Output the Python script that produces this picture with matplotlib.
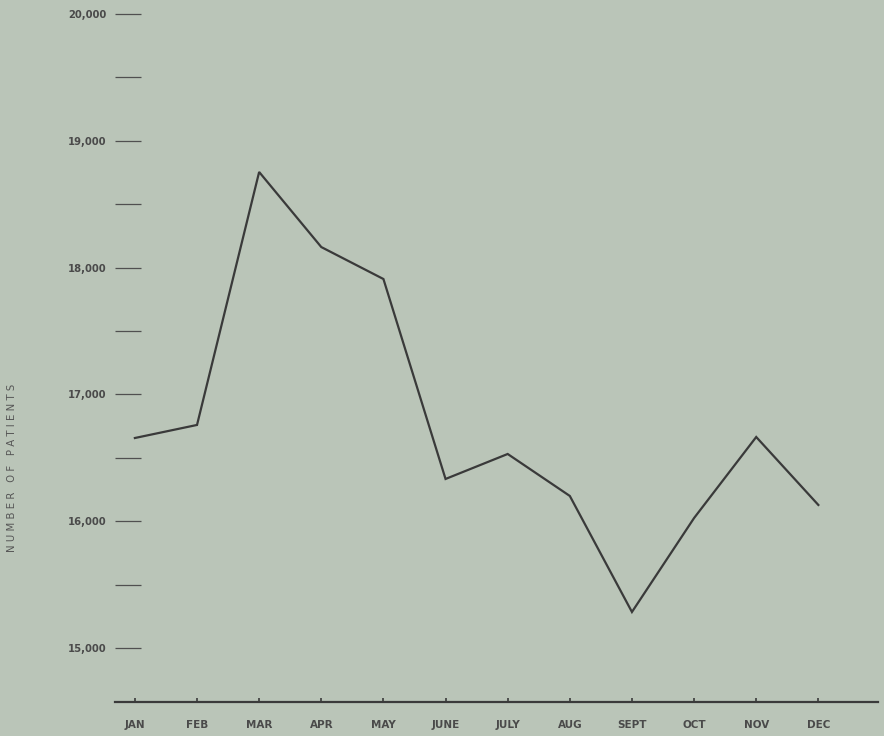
import matplotlib.pyplot as plt
from matplotlib.ticker import MultipleLocator, FuncFormatter

# monthly patient counts
months = ['JAN', 'FEB', 'MAR', 'APR', 'MAY', 'JUNE', 'JULY', 'AUG', 'SEPT', 'OCT', 'NOV', 'DEC']
patients = [16656, 16759, 18754, 18162, 17910, 16333, 16530, 16199, 15284, 16025, 16664, 16128]

bg = '#bac5b8'
ink = '#3a3a3a'

fig = plt.figure(figsize=(8.84, 7.36), dpi=100, facecolor=bg)
ax = fig.add_axes([115 / 884, 34 / 736, 763 / 884, 688 / 736])
ax.set_facecolor(bg)

x = list(range(len(months)))
ax.plot(x, patients, color=ink, linewidth=1.6, solid_joinstyle='miter')

ax.set_xlim(-0.32, 11.96)
ax.set_ylim(14574, 20000)

# only the baseline is drawn
for side in ['left', 'right', 'top']:
    ax.spines[side].set_visible(False)
ax.spines['bottom'].set_color(ink)
ax.spines['bottom'].set_linewidth(1.6)

ax.set_xticks(x)
ax.set_xticklabels(months, fontsize=7.5, fontweight='bold', color='#4a4a4a')
ax.tick_params(axis='x', direction='in', length=3, width=1.2, color=ink, pad=13)

ax.yaxis.set_major_locator(MultipleLocator(1000))
ax.yaxis.set_minor_locator(MultipleLocator(500))
ax.yaxis.set_major_formatter(FuncFormatter(lambda v, p: f'{int(v):,}'))
ax.tick_params(axis='y', which='both', direction='in', length=19, width=0.9,
               color='#505050', labelsize=7.2, labelcolor='#4a4a4a', pad=6)
for lbl in ax.get_yticklabels():
    lbl.set_fontweight('bold')

fig.text(12 / 884, (736 - 468) / 736, 'N U M B E R   O F   P A T I E N T S',
         rotation=90, ha='center', va='center', fontsize=7.3, color='#555555')

fig.savefig('out.png', dpi=100, facecolor=bg)
